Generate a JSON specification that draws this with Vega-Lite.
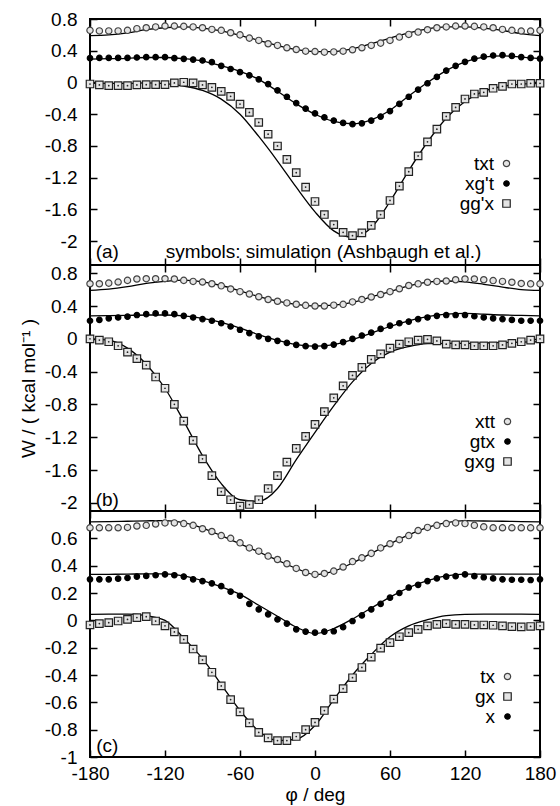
{
"$schema": "https://vega.github.io/schema/vega-lite/v6.json",
"padding": {"left": 18, "top": 9, "right": 5, "bottom": 0},
"spacing": 0,
"bounds": "flush",
"datasets": {
"sim": [
{"p":"a","s":"txt","phi":-180,"w":0.657},{"p":"a","s":"txt","phi":-172.5,"w":0.65},{"p":"a","s":"txt","phi":-165,"w":0.65},{"p":"a","s":"txt","phi":-157.5,"w":0.65},{"p":"a","s":"txt","phi":-150,"w":0.657},{"p":"a","s":"txt","phi":-142.5,"w":0.678},{"p":"a","s":"txt","phi":-135,"w":0.69},{"p":"a","s":"txt","phi":-127.5,"w":0.70},{"p":"a","s":"txt","phi":-120,"w":0.711},{"p":"a","s":"txt","phi":-112.5,"w":0.711},{"p":"a","s":"txt","phi":-105,"w":0.707},{"p":"a","s":"txt","phi":-97.5,"w":0.70},{"p":"a","s":"txt","phi":-90,"w":0.69},{"p":"a","s":"txt","phi":-82.5,"w":0.669},{"p":"a","s":"txt","phi":-75,"w":0.657},{"p":"a","s":"txt","phi":-67.5,"w":0.627},{"p":"a","s":"txt","phi":-60,"w":0.60},{"p":"a","s":"txt","phi":-52.5,"w":0.559},{"p":"a","s":"txt","phi":-45,"w":0.53},{"p":"a","s":"txt","phi":-37.5,"w":0.488},{"p":"a","s":"txt","phi":-30,"w":0.467},{"p":"a","s":"txt","phi":-22.5,"w":0.437},{"p":"a","s":"txt","phi":-15,"w":0.416},{"p":"a","s":"txt","phi":-7.5,"w":0.395},{"p":"a","s":"txt","phi":0,"w":0.39},{"p":"a","s":"txt","phi":7.5,"w":0.382},{"p":"a","s":"txt","phi":15,"w":0.385},{"p":"a","s":"txt","phi":22.5,"w":0.395},{"p":"a","s":"txt","phi":30,"w":0.412},{"p":"a","s":"txt","phi":37.5,"w":0.437},{"p":"a","s":"txt","phi":45,"w":0.467},{"p":"a","s":"txt","phi":52.5,"w":0.496},{"p":"a","s":"txt","phi":60,"w":0.53},{"p":"a","s":"txt","phi":67.5,"w":0.572},{"p":"a","s":"txt","phi":75,"w":0.606},{"p":"a","s":"txt","phi":82.5,"w":0.635},{"p":"a","s":"txt","phi":90,"w":0.665},{"p":"a","s":"txt","phi":97.5,"w":0.69},{"p":"a","s":"txt","phi":105,"w":0.70},{"p":"a","s":"txt","phi":112.5,"w":0.711},{"p":"a","s":"txt","phi":120,"w":0.711},{"p":"a","s":"txt","phi":127.5,"w":0.707},{"p":"a","s":"txt","phi":135,"w":0.70},{"p":"a","s":"txt","phi":142.5,"w":0.69},{"p":"a","s":"txt","phi":150,"w":0.669},{"p":"a","s":"txt","phi":157.5,"w":0.657},{"p":"a","s":"txt","phi":165,"w":0.648},{"p":"a","s":"txt","phi":172.5,"w":0.648},{"p":"a","s":"txt","phi":180,"w":0.657},
{"p":"a","s":"xg't","phi":-180,"w":0.306},{"p":"a","s":"xg't","phi":-172.5,"w":0.31},{"p":"a","s":"xg't","phi":-165,"w":0.31},{"p":"a","s":"xg't","phi":-157.5,"w":0.31},{"p":"a","s":"xg't","phi":-150,"w":0.31},{"p":"a","s":"xg't","phi":-142.5,"w":0.315},{"p":"a","s":"xg't","phi":-135,"w":0.319},{"p":"a","s":"xg't","phi":-127.5,"w":0.319},{"p":"a","s":"xg't","phi":-120,"w":0.319},{"p":"a","s":"xg't","phi":-112.5,"w":0.306},{"p":"a","s":"xg't","phi":-105,"w":0.298},{"p":"a","s":"xg't","phi":-97.5,"w":0.289},{"p":"a","s":"xg't","phi":-90,"w":0.277},{"p":"a","s":"xg't","phi":-82.5,"w":0.256},{"p":"a","s":"xg't","phi":-75,"w":0.21},{"p":"a","s":"xg't","phi":-67.5,"w":0.17},{"p":"a","s":"xg't","phi":-60,"w":0.13},{"p":"a","s":"xg't","phi":-52.5,"w":0.09},{"p":"a","s":"xg't","phi":-45,"w":0.04},{"p":"a","s":"xg't","phi":-37.5,"w":-0.02},{"p":"a","s":"xg't","phi":-30,"w":-0.10},{"p":"a","s":"xg't","phi":-22.5,"w":-0.18},{"p":"a","s":"xg't","phi":-15,"w":-0.26},{"p":"a","s":"xg't","phi":-7.5,"w":-0.33},{"p":"a","s":"xg't","phi":0,"w":-0.39},{"p":"a","s":"xg't","phi":7.5,"w":-0.44},{"p":"a","s":"xg't","phi":15,"w":-0.48},{"p":"a","s":"xg't","phi":22.5,"w":-0.51},{"p":"a","s":"xg't","phi":30,"w":-0.525},{"p":"a","s":"xg't","phi":37.5,"w":-0.515},{"p":"a","s":"xg't","phi":45,"w":-0.48},{"p":"a","s":"xg't","phi":52.5,"w":-0.43},{"p":"a","s":"xg't","phi":60,"w":-0.36},{"p":"a","s":"xg't","phi":67.5,"w":-0.27},{"p":"a","s":"xg't","phi":75,"w":-0.18},{"p":"a","s":"xg't","phi":82.5,"w":-0.09},{"p":"a","s":"xg't","phi":90,"w":-0.01},{"p":"a","s":"xg't","phi":97.5,"w":0.07},{"p":"a","s":"xg't","phi":105,"w":0.15},{"p":"a","s":"xg't","phi":112.5,"w":0.21},{"p":"a","s":"xg't","phi":120,"w":0.26},{"p":"a","s":"xg't","phi":127.5,"w":0.30},{"p":"a","s":"xg't","phi":135,"w":0.325},{"p":"a","s":"xg't","phi":142.5,"w":0.34},{"p":"a","s":"xg't","phi":150,"w":0.345},{"p":"a","s":"xg't","phi":157.5,"w":0.335},{"p":"a","s":"xg't","phi":165,"w":0.32},{"p":"a","s":"xg't","phi":172.5,"w":0.31},{"p":"a","s":"xg't","phi":180,"w":0.30},
{"p":"a","s":"gg'x","phi":-180,"w":-0.019},{"p":"a","s":"gg'x","phi":-172.5,"w":-0.031},{"p":"a","s":"gg'x","phi":-165,"w":-0.04},{"p":"a","s":"gg'x","phi":-157.5,"w":-0.04},{"p":"a","s":"gg'x","phi":-150,"w":-0.04},{"p":"a","s":"gg'x","phi":-142.5,"w":-0.031},{"p":"a","s":"gg'x","phi":-135,"w":-0.027},{"p":"a","s":"gg'x","phi":-127.5,"w":-0.027},{"p":"a","s":"gg'x","phi":-120,"w":-0.027},{"p":"a","s":"gg'x","phi":-112.5,"w":-0.006},{"p":"a","s":"gg'x","phi":-105,"w":0.003},{"p":"a","s":"gg'x","phi":-97.5,"w":-0.006},{"p":"a","s":"gg'x","phi":-90,"w":-0.031},{"p":"a","s":"gg'x","phi":-82.5,"w":-0.061},{"p":"a","s":"gg'x","phi":-75,"w":-0.111},{"p":"a","s":"gg'x","phi":-67.5,"w":-0.175},{"p":"a","s":"gg'x","phi":-60,"w":-0.272},{"p":"a","s":"gg'x","phi":-52.5,"w":-0.377},{"p":"a","s":"gg'x","phi":-45,"w":-0.504},{"p":"a","s":"gg'x","phi":-37.5,"w":-0.652},{"p":"a","s":"gg'x","phi":-30,"w":-0.80},{"p":"a","s":"gg'x","phi":-22.5,"w":-0.968},{"p":"a","s":"gg'x","phi":-15,"w":-1.137},{"p":"a","s":"gg'x","phi":-7.5,"w":-1.318},{"p":"a","s":"gg'x","phi":0,"w":-1.50},{"p":"a","s":"gg'x","phi":7.5,"w":-1.664},{"p":"a","s":"gg'x","phi":15,"w":-1.791},{"p":"a","s":"gg'x","phi":22.5,"w":-1.888},{"p":"a","s":"gg'x","phi":30,"w":-1.93},{"p":"a","s":"gg'x","phi":37.5,"w":-1.896},{"p":"a","s":"gg'x","phi":45,"w":-1.80},{"p":"a","s":"gg'x","phi":52.5,"w":-1.664},{"p":"a","s":"gg'x","phi":60,"w":-1.487},{"p":"a","s":"gg'x","phi":67.5,"w":-1.305},{"p":"a","s":"gg'x","phi":75,"w":-1.124},{"p":"a","s":"gg'x","phi":82.5,"w":-0.926},{"p":"a","s":"gg'x","phi":90,"w":-0.748},{"p":"a","s":"gg'x","phi":97.5,"w":-0.588},{"p":"a","s":"gg'x","phi":105,"w":-0.428},{"p":"a","s":"gg'x","phi":112.5,"w":-0.314},{"p":"a","s":"gg'x","phi":120,"w":-0.208},{"p":"a","s":"gg'x","phi":127.5,"w":-0.145},{"p":"a","s":"gg'x","phi":135,"w":-0.124},{"p":"a","s":"gg'x","phi":142.5,"w":-0.073},{"p":"a","s":"gg'x","phi":150,"w":-0.048},{"p":"a","s":"gg'x","phi":157.5,"w":-0.019},{"p":"a","s":"gg'x","phi":165,"w":-0.019},{"p":"a","s":"gg'x","phi":172.5,"w":-0.01},{"p":"a","s":"gg'x","phi":180,"w":-0.01},
{"p":"b","s":"xtt","phi":-180,"w":0.671},{"p":"b","s":"xtt","phi":-172.5,"w":0.671},{"p":"b","s":"xtt","phi":-165,"w":0.679},{"p":"b","s":"xtt","phi":-157.5,"w":0.692},{"p":"b","s":"xtt","phi":-150,"w":0.7125},{"p":"b","s":"xtt","phi":-142.5,"w":0.729},{"p":"b","s":"xtt","phi":-135,"w":0.733},{"p":"b","s":"xtt","phi":-127.5,"w":0.733},{"p":"b","s":"xtt","phi":-120,"w":0.733},{"p":"b","s":"xtt","phi":-112.5,"w":0.729},{"p":"b","s":"xtt","phi":-105,"w":0.7125},{"p":"b","s":"xtt","phi":-97.5,"w":0.70},{"p":"b","s":"xtt","phi":-90,"w":0.692},{"p":"b","s":"xtt","phi":-82.5,"w":0.671},{"p":"b","s":"xtt","phi":-75,"w":0.646},{"p":"b","s":"xtt","phi":-67.5,"w":0.608},{"p":"b","s":"xtt","phi":-60,"w":0.575},{"p":"b","s":"xtt","phi":-52.5,"w":0.546},{"p":"b","s":"xtt","phi":-45,"w":0.5125},{"p":"b","s":"xtt","phi":-37.5,"w":0.479},{"p":"b","s":"xtt","phi":-30,"w":0.458},{"p":"b","s":"xtt","phi":-22.5,"w":0.4375},{"p":"b","s":"xtt","phi":-15,"w":0.421},{"p":"b","s":"xtt","phi":-7.5,"w":0.408},{"p":"b","s":"xtt","phi":0,"w":0.40},{"p":"b","s":"xtt","phi":7.5,"w":0.40},{"p":"b","s":"xtt","phi":15,"w":0.41},{"p":"b","s":"xtt","phi":22.5,"w":0.42},{"p":"b","s":"xtt","phi":30,"w":0.45},{"p":"b","s":"xtt","phi":37.5,"w":0.48},{"p":"b","s":"xtt","phi":45,"w":0.51},{"p":"b","s":"xtt","phi":52.5,"w":0.54},{"p":"b","s":"xtt","phi":60,"w":0.575},{"p":"b","s":"xtt","phi":67.5,"w":0.61},{"p":"b","s":"xtt","phi":75,"w":0.65},{"p":"b","s":"xtt","phi":82.5,"w":0.67},{"p":"b","s":"xtt","phi":90,"w":0.69},{"p":"b","s":"xtt","phi":97.5,"w":0.70},{"p":"b","s":"xtt","phi":105,"w":0.705},{"p":"b","s":"xtt","phi":112.5,"w":0.72},{"p":"b","s":"xtt","phi":120,"w":0.73},{"p":"b","s":"xtt","phi":127.5,"w":0.73},{"p":"b","s":"xtt","phi":135,"w":0.72},{"p":"b","s":"xtt","phi":142.5,"w":0.71},{"p":"b","s":"xtt","phi":150,"w":0.70},{"p":"b","s":"xtt","phi":157.5,"w":0.69},{"p":"b","s":"xtt","phi":165,"w":0.675},{"p":"b","s":"xtt","phi":172.5,"w":0.67},{"p":"b","s":"xtt","phi":180,"w":0.67},
{"p":"b","s":"gtx","phi":-180,"w":0.22},{"p":"b","s":"gtx","phi":-172.5,"w":0.23},{"p":"b","s":"gtx","phi":-165,"w":0.25},{"p":"b","s":"gtx","phi":-157.5,"w":0.26},{"p":"b","s":"gtx","phi":-150,"w":0.27},{"p":"b","s":"gtx","phi":-142.5,"w":0.29},{"p":"b","s":"gtx","phi":-135,"w":0.30},{"p":"b","s":"gtx","phi":-127.5,"w":0.31},{"p":"b","s":"gtx","phi":-120,"w":0.31},{"p":"b","s":"gtx","phi":-112.5,"w":0.30},{"p":"b","s":"gtx","phi":-105,"w":0.28},{"p":"b","s":"gtx","phi":-97.5,"w":0.26},{"p":"b","s":"gtx","phi":-90,"w":0.24},{"p":"b","s":"gtx","phi":-82.5,"w":0.22},{"p":"b","s":"gtx","phi":-75,"w":0.19},{"p":"b","s":"gtx","phi":-67.5,"w":0.15},{"p":"b","s":"gtx","phi":-60,"w":0.11},{"p":"b","s":"gtx","phi":-52.5,"w":0.07},{"p":"b","s":"gtx","phi":-45,"w":0.03},{"p":"b","s":"gtx","phi":-37.5,"w":0.0},{"p":"b","s":"gtx","phi":-30,"w":-0.025},{"p":"b","s":"gtx","phi":-22.5,"w":-0.05},{"p":"b","s":"gtx","phi":-15,"w":-0.075},{"p":"b","s":"gtx","phi":-7.5,"w":-0.09},{"p":"b","s":"gtx","phi":0,"w":-0.095},{"p":"b","s":"gtx","phi":7.5,"w":-0.09},{"p":"b","s":"gtx","phi":15,"w":-0.07},{"p":"b","s":"gtx","phi":22.5,"w":-0.04},{"p":"b","s":"gtx","phi":30,"w":0.0},{"p":"b","s":"gtx","phi":37.5,"w":0.04},{"p":"b","s":"gtx","phi":45,"w":0.075},{"p":"b","s":"gtx","phi":52.5,"w":0.12},{"p":"b","s":"gtx","phi":60,"w":0.16},{"p":"b","s":"gtx","phi":67.5,"w":0.19},{"p":"b","s":"gtx","phi":75,"w":0.21},{"p":"b","s":"gtx","phi":82.5,"w":0.24},{"p":"b","s":"gtx","phi":90,"w":0.26},{"p":"b","s":"gtx","phi":97.5,"w":0.28},{"p":"b","s":"gtx","phi":105,"w":0.29},{"p":"b","s":"gtx","phi":112.5,"w":0.29},{"p":"b","s":"gtx","phi":120,"w":0.29},{"p":"b","s":"gtx","phi":127.5,"w":0.275},{"p":"b","s":"gtx","phi":135,"w":0.26},{"p":"b","s":"gtx","phi":142.5,"w":0.25},{"p":"b","s":"gtx","phi":150,"w":0.24},{"p":"b","s":"gtx","phi":157.5,"w":0.23},{"p":"b","s":"gtx","phi":165,"w":0.22},{"p":"b","s":"gtx","phi":172.5,"w":0.22},{"p":"b","s":"gtx","phi":180,"w":0.22},
{"p":"b","s":"gxg","phi":-180,"w":0.0},{"p":"b","s":"gxg","phi":-172.5,"w":-0.016},{"p":"b","s":"gxg","phi":-165,"w":-0.036},{"p":"b","s":"gxg","phi":-157.5,"w":-0.085},{"p":"b","s":"gxg","phi":-150,"w":-0.163},{"p":"b","s":"gxg","phi":-142.5,"w":-0.241},{"p":"b","s":"gxg","phi":-135,"w":-0.32},{"p":"b","s":"gxg","phi":-127.5,"w":-0.466},{"p":"b","s":"gxg","phi":-120,"w":-0.603},{"p":"b","s":"gxg","phi":-112.5,"w":-0.799},{"p":"b","s":"gxg","phi":-105,"w":-1.004},{"p":"b","s":"gxg","phi":-97.5,"w":-1.239},{"p":"b","s":"gxg","phi":-90,"w":-1.464},{"p":"b","s":"gxg","phi":-82.5,"w":-1.669},{"p":"b","s":"gxg","phi":-75,"w":-1.865},{"p":"b","s":"gxg","phi":-67.5,"w":-1.963},{"p":"b","s":"gxg","phi":-60,"w":-2.041},{"p":"b","s":"gxg","phi":-52.5,"w":-2.021},{"p":"b","s":"gxg","phi":-45,"w":-1.963},{"p":"b","s":"gxg","phi":-37.5,"w":-1.826},{"p":"b","s":"gxg","phi":-30,"w":-1.669},{"p":"b","s":"gxg","phi":-22.5,"w":-1.503},{"p":"b","s":"gxg","phi":-15,"w":-1.337},{"p":"b","s":"gxg","phi":-7.5,"w":-1.19},{"p":"b","s":"gxg","phi":0,"w":-1.043},{"p":"b","s":"gxg","phi":7.5,"w":-0.887},{"p":"b","s":"gxg","phi":15,"w":-0.72},{"p":"b","s":"gxg","phi":22.5,"w":-0.574},{"p":"b","s":"gxg","phi":30,"w":-0.447},{"p":"b","s":"gxg","phi":37.5,"w":-0.349},{"p":"b","s":"gxg","phi":45,"w":-0.251},{"p":"b","s":"gxg","phi":52.5,"w":-0.183},{"p":"b","s":"gxg","phi":60,"w":-0.114},{"p":"b","s":"gxg","phi":67.5,"w":-0.065},{"p":"b","s":"gxg","phi":75,"w":-0.036},{"p":"b","s":"gxg","phi":82.5,"w":-0.016},{"p":"b","s":"gxg","phi":90,"w":-0.007},{"p":"b","s":"gxg","phi":97.5,"w":-0.026},{"p":"b","s":"gxg","phi":105,"w":-0.065},{"p":"b","s":"gxg","phi":112.5,"w":-0.075},{"p":"b","s":"gxg","phi":120,"w":-0.075},{"p":"b","s":"gxg","phi":127.5,"w":-0.085},{"p":"b","s":"gxg","phi":135,"w":-0.085},{"p":"b","s":"gxg","phi":142.5,"w":-0.085},{"p":"b","s":"gxg","phi":150,"w":-0.075},{"p":"b","s":"gxg","phi":157.5,"w":-0.055},{"p":"b","s":"gxg","phi":165,"w":-0.036},{"p":"b","s":"gxg","phi":172.5,"w":-0.016},{"p":"b","s":"gxg","phi":180,"w":0.0},
{"p":"c","s":"tx","phi":-180,"w":0.677},{"p":"c","s":"tx","phi":-172.5,"w":0.677},{"p":"c","s":"tx","phi":-165,"w":0.677},{"p":"c","s":"tx","phi":-157.5,"w":0.677},{"p":"c","s":"tx","phi":-150,"w":0.68},{"p":"c","s":"tx","phi":-142.5,"w":0.69},{"p":"c","s":"tx","phi":-135,"w":0.695},{"p":"c","s":"tx","phi":-127.5,"w":0.705},{"p":"c","s":"tx","phi":-120,"w":0.713},{"p":"c","s":"tx","phi":-112.5,"w":0.713},{"p":"c","s":"tx","phi":-105,"w":0.708},{"p":"c","s":"tx","phi":-97.5,"w":0.695},{"p":"c","s":"tx","phi":-90,"w":0.67},{"p":"c","s":"tx","phi":-82.5,"w":0.65},{"p":"c","s":"tx","phi":-75,"w":0.62},{"p":"c","s":"tx","phi":-67.5,"w":0.60},{"p":"c","s":"tx","phi":-60,"w":0.567},{"p":"c","s":"tx","phi":-52.5,"w":0.53},{"p":"c","s":"tx","phi":-45,"w":0.506},{"p":"c","s":"tx","phi":-37.5,"w":0.47},{"p":"c","s":"tx","phi":-30,"w":0.445},{"p":"c","s":"tx","phi":-22.5,"w":0.414},{"p":"c","s":"tx","phi":-15,"w":0.38},{"p":"c","s":"tx","phi":-7.5,"w":0.35},{"p":"c","s":"tx","phi":0,"w":0.336},{"p":"c","s":"tx","phi":7.5,"w":0.343},{"p":"c","s":"tx","phi":15,"w":0.36},{"p":"c","s":"tx","phi":22.5,"w":0.39},{"p":"c","s":"tx","phi":30,"w":0.43},{"p":"c","s":"tx","phi":37.5,"w":0.457},{"p":"c","s":"tx","phi":45,"w":0.49},{"p":"c","s":"tx","phi":52.5,"w":0.53},{"p":"c","s":"tx","phi":60,"w":0.56},{"p":"c","s":"tx","phi":67.5,"w":0.59},{"p":"c","s":"tx","phi":75,"w":0.62},{"p":"c","s":"tx","phi":82.5,"w":0.657},{"p":"c","s":"tx","phi":90,"w":0.68},{"p":"c","s":"tx","phi":97.5,"w":0.695},{"p":"c","s":"tx","phi":105,"w":0.708},{"p":"c","s":"tx","phi":112.5,"w":0.713},{"p":"c","s":"tx","phi":120,"w":0.708},{"p":"c","s":"tx","phi":127.5,"w":0.695},{"p":"c","s":"tx","phi":135,"w":0.684},{"p":"c","s":"tx","phi":142.5,"w":0.677},{"p":"c","s":"tx","phi":150,"w":0.677},{"p":"c","s":"tx","phi":157.5,"w":0.677},{"p":"c","s":"tx","phi":165,"w":0.677},{"p":"c","s":"tx","phi":172.5,"w":0.677},{"p":"c","s":"tx","phi":180,"w":0.677},
{"p":"c","s":"gx","phi":-180,"w":-0.034},{"p":"c","s":"gx","phi":-172.5,"w":-0.024},{"p":"c","s":"gx","phi":-165,"w":-0.017},{"p":"c","s":"gx","phi":-157.5,"w":-0.005},{"p":"c","s":"gx","phi":-150,"w":0.007},{"p":"c","s":"gx","phi":-142.5,"w":0.02},{"p":"c","s":"gx","phi":-135,"w":0.027},{"p":"c","s":"gx","phi":-127.5,"w":-0.005},{"p":"c","s":"gx","phi":-120,"w":-0.04},{"p":"c","s":"gx","phi":-112.5,"w":-0.085},{"p":"c","s":"gx","phi":-105,"w":-0.14},{"p":"c","s":"gx","phi":-97.5,"w":-0.21},{"p":"c","s":"gx","phi":-90,"w":-0.29},{"p":"c","s":"gx","phi":-82.5,"w":-0.38},{"p":"c","s":"gx","phi":-75,"w":-0.48},{"p":"c","s":"gx","phi":-67.5,"w":-0.58},{"p":"c","s":"gx","phi":-60,"w":-0.67},{"p":"c","s":"gx","phi":-52.5,"w":-0.75},{"p":"c","s":"gx","phi":-45,"w":-0.82},{"p":"c","s":"gx","phi":-37.5,"w":-0.86},{"p":"c","s":"gx","phi":-30,"w":-0.88},{"p":"c","s":"gx","phi":-22.5,"w":-0.88},{"p":"c","s":"gx","phi":-15,"w":-0.85},{"p":"c","s":"gx","phi":-7.5,"w":-0.80},{"p":"c","s":"gx","phi":0,"w":-0.747},{"p":"c","s":"gx","phi":7.5,"w":-0.66},{"p":"c","s":"gx","phi":15,"w":-0.577},{"p":"c","s":"gx","phi":22.5,"w":-0.50},{"p":"c","s":"gx","phi":30,"w":-0.42},{"p":"c","s":"gx","phi":37.5,"w":-0.345},{"p":"c","s":"gx","phi":45,"w":-0.27},{"p":"c","s":"gx","phi":52.5,"w":-0.204},{"p":"c","s":"gx","phi":60,"w":-0.163},{"p":"c","s":"gx","phi":67.5,"w":-0.12},{"p":"c","s":"gx","phi":75,"w":-0.09},{"p":"c","s":"gx","phi":82.5,"w":-0.066},{"p":"c","s":"gx","phi":90,"w":-0.04},{"p":"c","s":"gx","phi":97.5,"w":-0.03},{"p":"c","s":"gx","phi":105,"w":-0.024},{"p":"c","s":"gx","phi":112.5,"w":-0.03},{"p":"c","s":"gx","phi":120,"w":-0.03},{"p":"c","s":"gx","phi":127.5,"w":-0.034},{"p":"c","s":"gx","phi":135,"w":-0.034},{"p":"c","s":"gx","phi":142.5,"w":-0.036},{"p":"c","s":"gx","phi":150,"w":-0.04},{"p":"c","s":"gx","phi":157.5,"w":-0.046},{"p":"c","s":"gx","phi":165,"w":-0.048},{"p":"c","s":"gx","phi":172.5,"w":-0.045},{"p":"c","s":"gx","phi":180,"w":-0.04},
{"p":"c","s":"x","phi":-180,"w":0.30},{"p":"c","s":"x","phi":-172.5,"w":0.30},{"p":"c","s":"x","phi":-165,"w":0.30},{"p":"c","s":"x","phi":-157.5,"w":0.305},{"p":"c","s":"x","phi":-150,"w":0.31},{"p":"c","s":"x","phi":-142.5,"w":0.32},{"p":"c","s":"x","phi":-135,"w":0.325},{"p":"c","s":"x","phi":-127.5,"w":0.33},{"p":"c","s":"x","phi":-120,"w":0.336},{"p":"c","s":"x","phi":-112.5,"w":0.33},{"p":"c","s":"x","phi":-105,"w":0.32},{"p":"c","s":"x","phi":-97.5,"w":0.30},{"p":"c","s":"x","phi":-90,"w":0.287},{"p":"c","s":"x","phi":-82.5,"w":0.27},{"p":"c","s":"x","phi":-75,"w":0.25},{"p":"c","s":"x","phi":-67.5,"w":0.21},{"p":"c","s":"x","phi":-60,"w":0.18},{"p":"c","s":"x","phi":-52.5,"w":0.12},{"p":"c","s":"x","phi":-45,"w":0.08},{"p":"c","s":"x","phi":-37.5,"w":0.044},{"p":"c","s":"x","phi":-30,"w":0.007},{"p":"c","s":"x","phi":-22.5,"w":-0.024},{"p":"c","s":"x","phi":-15,"w":-0.066},{"p":"c","s":"x","phi":-7.5,"w":-0.083},{"p":"c","s":"x","phi":0,"w":-0.09},{"p":"c","s":"x","phi":7.5,"w":-0.083},{"p":"c","s":"x","phi":15,"w":-0.08},{"p":"c","s":"x","phi":22.5,"w":-0.05},{"p":"c","s":"x","phi":30,"w":-0.005},{"p":"c","s":"x","phi":37.5,"w":0.036},{"p":"c","s":"x","phi":45,"w":0.08},{"p":"c","s":"x","phi":52.5,"w":0.12},{"p":"c","s":"x","phi":60,"w":0.166},{"p":"c","s":"x","phi":67.5,"w":0.20},{"p":"c","s":"x","phi":75,"w":0.24},{"p":"c","s":"x","phi":82.5,"w":0.26},{"p":"c","s":"x","phi":90,"w":0.287},{"p":"c","s":"x","phi":97.5,"w":0.307},{"p":"c","s":"x","phi":105,"w":0.32},{"p":"c","s":"x","phi":112.5,"w":0.323},{"p":"c","s":"x","phi":120,"w":0.336},{"p":"c","s":"x","phi":127.5,"w":0.323},{"p":"c","s":"x","phi":135,"w":0.315},{"p":"c","s":"x","phi":142.5,"w":0.307},{"p":"c","s":"x","phi":150,"w":0.30},{"p":"c","s":"x","phi":157.5,"w":0.297},{"p":"c","s":"x","phi":165,"w":0.297},{"p":"c","s":"x","phi":172.5,"w":0.295},{"p":"c","s":"x","phi":180,"w":0.30}
],
"fit": [
{"p":"a","s":"txt","phi":-180,"w":0.59},{"p":"a","s":"txt","phi":-165,"w":0.60},{"p":"a","s":"txt","phi":-150,"w":0.625},{"p":"a","s":"txt","phi":-135,"w":0.665},{"p":"a","s":"txt","phi":-120,"w":0.69},{"p":"a","s":"txt","phi":-105,"w":0.70},{"p":"a","s":"txt","phi":-90,"w":0.685},{"p":"a","s":"txt","phi":-75,"w":0.65},{"p":"a","s":"txt","phi":-60,"w":0.595},{"p":"a","s":"txt","phi":-45,"w":0.53},{"p":"a","s":"txt","phi":-30,"w":0.465},{"p":"a","s":"txt","phi":-15,"w":0.415},{"p":"a","s":"txt","phi":0,"w":0.39},{"p":"a","s":"txt","phi":15,"w":0.39},{"p":"a","s":"txt","phi":30,"w":0.425},{"p":"a","s":"txt","phi":45,"w":0.49},{"p":"a","s":"txt","phi":60,"w":0.56},{"p":"a","s":"txt","phi":75,"w":0.625},{"p":"a","s":"txt","phi":90,"w":0.675},{"p":"a","s":"txt","phi":105,"w":0.70},{"p":"a","s":"txt","phi":120,"w":0.70},{"p":"a","s":"txt","phi":135,"w":0.685},{"p":"a","s":"txt","phi":150,"w":0.655},{"p":"a","s":"txt","phi":165,"w":0.615},{"p":"a","s":"txt","phi":180,"w":0.59},
{"p":"a","s":"xg't","phi":-180,"w":0.295},{"p":"a","s":"xg't","phi":-165,"w":0.30},{"p":"a","s":"xg't","phi":-150,"w":0.305},{"p":"a","s":"xg't","phi":-135,"w":0.315},{"p":"a","s":"xg't","phi":-120,"w":0.315},{"p":"a","s":"xg't","phi":-105,"w":0.30},{"p":"a","s":"xg't","phi":-90,"w":0.27},{"p":"a","s":"xg't","phi":-75,"w":0.21},{"p":"a","s":"xg't","phi":-60,"w":0.14},{"p":"a","s":"xg't","phi":-45,"w":0.04},{"p":"a","s":"xg't","phi":-30,"w":-0.11},{"p":"a","s":"xg't","phi":-15,"w":-0.27},{"p":"a","s":"xg't","phi":0,"w":-0.40},{"p":"a","s":"xg't","phi":15,"w":-0.49},{"p":"a","s":"xg't","phi":30,"w":-0.52},{"p":"a","s":"xg't","phi":45,"w":-0.47},{"p":"a","s":"xg't","phi":60,"w":-0.35},{"p":"a","s":"xg't","phi":75,"w":-0.17},{"p":"a","s":"xg't","phi":90,"w":0.0},{"p":"a","s":"xg't","phi":105,"w":0.15},{"p":"a","s":"xg't","phi":120,"w":0.26},{"p":"a","s":"xg't","phi":135,"w":0.32},{"p":"a","s":"xg't","phi":150,"w":0.335},{"p":"a","s":"xg't","phi":165,"w":0.32},{"p":"a","s":"xg't","phi":180,"w":0.30},
{"p":"a","s":"gg'x","phi":-180,"w":-0.01},{"p":"a","s":"gg'x","phi":-165,"w":-0.01},{"p":"a","s":"gg'x","phi":-150,"w":-0.01},{"p":"a","s":"gg'x","phi":-135,"w":-0.005},{"p":"a","s":"gg'x","phi":-120,"w":-0.015},{"p":"a","s":"gg'x","phi":-105,"w":-0.045},{"p":"a","s":"gg'x","phi":-90,"w":-0.10},{"p":"a","s":"gg'x","phi":-75,"w":-0.21},{"p":"a","s":"gg'x","phi":-60,"w":-0.40},{"p":"a","s":"gg'x","phi":-45,"w":-0.68},{"p":"a","s":"gg'x","phi":-30,"w":-0.99},{"p":"a","s":"gg'x","phi":-15,"w":-1.32},{"p":"a","s":"gg'x","phi":0,"w":-1.63},{"p":"a","s":"gg'x","phi":15,"w":-1.87},{"p":"a","s":"gg'x","phi":30,"w":-1.95},{"p":"a","s":"gg'x","phi":45,"w":-1.83},{"p":"a","s":"gg'x","phi":60,"w":-1.50},{"p":"a","s":"gg'x","phi":75,"w":-1.11},{"p":"a","s":"gg'x","phi":90,"w":-0.75},{"p":"a","s":"gg'x","phi":105,"w":-0.45},{"p":"a","s":"gg'x","phi":120,"w":-0.24},{"p":"a","s":"gg'x","phi":135,"w":-0.11},{"p":"a","s":"gg'x","phi":150,"w":-0.05},{"p":"a","s":"gg'x","phi":165,"w":-0.02},{"p":"a","s":"gg'x","phi":180,"w":-0.01},
{"p":"b","s":"xtt","phi":-180,"w":0.59},{"p":"b","s":"xtt","phi":-165,"w":0.605},{"p":"b","s":"xtt","phi":-150,"w":0.635},{"p":"b","s":"xtt","phi":-135,"w":0.675},{"p":"b","s":"xtt","phi":-120,"w":0.70},{"p":"b","s":"xtt","phi":-105,"w":0.715},{"p":"b","s":"xtt","phi":-90,"w":0.695},{"p":"b","s":"xtt","phi":-75,"w":0.65},{"p":"b","s":"xtt","phi":-60,"w":0.585},{"p":"b","s":"xtt","phi":-45,"w":0.515},{"p":"b","s":"xtt","phi":-30,"w":0.46},{"p":"b","s":"xtt","phi":-15,"w":0.42},{"p":"b","s":"xtt","phi":0,"w":0.40},{"p":"b","s":"xtt","phi":15,"w":0.41},{"p":"b","s":"xtt","phi":30,"w":0.445},{"p":"b","s":"xtt","phi":45,"w":0.51},{"p":"b","s":"xtt","phi":60,"w":0.575},{"p":"b","s":"xtt","phi":75,"w":0.645},{"p":"b","s":"xtt","phi":90,"w":0.69},{"p":"b","s":"xtt","phi":105,"w":0.705},{"p":"b","s":"xtt","phi":120,"w":0.695},{"p":"b","s":"xtt","phi":135,"w":0.665},{"p":"b","s":"xtt","phi":150,"w":0.63},{"p":"b","s":"xtt","phi":165,"w":0.60},{"p":"b","s":"xtt","phi":180,"w":0.59},
{"p":"b","s":"gtx","phi":-180,"w":0.28},{"p":"b","s":"gtx","phi":-165,"w":0.282},{"p":"b","s":"gtx","phi":-150,"w":0.285},{"p":"b","s":"gtx","phi":-135,"w":0.29},{"p":"b","s":"gtx","phi":-120,"w":0.29},{"p":"b","s":"gtx","phi":-105,"w":0.28},{"p":"b","s":"gtx","phi":-90,"w":0.25},{"p":"b","s":"gtx","phi":-75,"w":0.20},{"p":"b","s":"gtx","phi":-60,"w":0.13},{"p":"b","s":"gtx","phi":-45,"w":0.05},{"p":"b","s":"gtx","phi":-30,"w":-0.02},{"p":"b","s":"gtx","phi":-15,"w":-0.07},{"p":"b","s":"gtx","phi":0,"w":-0.09},{"p":"b","s":"gtx","phi":15,"w":-0.07},{"p":"b","s":"gtx","phi":30,"w":-0.01},{"p":"b","s":"gtx","phi":45,"w":0.07},{"p":"b","s":"gtx","phi":60,"w":0.15},{"p":"b","s":"gtx","phi":75,"w":0.22},{"p":"b","s":"gtx","phi":90,"w":0.27},{"p":"b","s":"gtx","phi":105,"w":0.30},{"p":"b","s":"gtx","phi":120,"w":0.31},{"p":"b","s":"gtx","phi":135,"w":0.30},{"p":"b","s":"gtx","phi":150,"w":0.29},{"p":"b","s":"gtx","phi":165,"w":0.285},{"p":"b","s":"gtx","phi":180,"w":0.28},
{"p":"b","s":"gxg","phi":-180,"w":0.0},{"p":"b","s":"gxg","phi":-165,"w":-0.016},{"p":"b","s":"gxg","phi":-150,"w":-0.114},{"p":"b","s":"gxg","phi":-135,"w":-0.31},{"p":"b","s":"gxg","phi":-120,"w":-0.603},{"p":"b","s":"gxg","phi":-105,"w":-1.004},{"p":"b","s":"gxg","phi":-90,"w":-1.425},{"p":"b","s":"gxg","phi":-75,"w":-1.767},{"p":"b","s":"gxg","phi":-60,"w":-1.963},{"p":"b","s":"gxg","phi":-45,"w":-1.982},{"p":"b","s":"gxg","phi":-30,"w":-1.826},{"p":"b","s":"gxg","phi":-15,"w":-1.474},{"p":"b","s":"gxg","phi":0,"w":-1.141},{"p":"b","s":"gxg","phi":15,"w":-0.818},{"p":"b","s":"gxg","phi":30,"w":-0.525},{"p":"b","s":"gxg","phi":45,"w":-0.30},{"p":"b","s":"gxg","phi":60,"w":-0.163},{"p":"b","s":"gxg","phi":75,"w":-0.095},{"p":"b","s":"gxg","phi":90,"w":-0.06},{"p":"b","s":"gxg","phi":105,"w":-0.055},{"p":"b","s":"gxg","phi":120,"w":-0.055},{"p":"b","s":"gxg","phi":135,"w":-0.051},{"p":"b","s":"gxg","phi":150,"w":-0.046},{"p":"b","s":"gxg","phi":165,"w":-0.041},{"p":"b","s":"gxg","phi":180,"w":-0.036},
{"p":"c","s":"tx","phi":-180,"w":0.72},{"p":"c","s":"tx","phi":-165,"w":0.722},{"p":"c","s":"tx","phi":-150,"w":0.725},{"p":"c","s":"tx","phi":-135,"w":0.728},{"p":"c","s":"tx","phi":-120,"w":0.73},{"p":"c","s":"tx","phi":-105,"w":0.715},{"p":"c","s":"tx","phi":-90,"w":0.675},{"p":"c","s":"tx","phi":-75,"w":0.62},{"p":"c","s":"tx","phi":-60,"w":0.56},{"p":"c","s":"tx","phi":-45,"w":0.50},{"p":"c","s":"tx","phi":-30,"w":0.44},{"p":"c","s":"tx","phi":-15,"w":0.38},{"p":"c","s":"tx","phi":0,"w":0.335},{"p":"c","s":"tx","phi":15,"w":0.36},{"p":"c","s":"tx","phi":30,"w":0.42},{"p":"c","s":"tx","phi":45,"w":0.49},{"p":"c","s":"tx","phi":60,"w":0.56},{"p":"c","s":"tx","phi":75,"w":0.625},{"p":"c","s":"tx","phi":90,"w":0.68},{"p":"c","s":"tx","phi":105,"w":0.715},{"p":"c","s":"tx","phi":120,"w":0.73},{"p":"c","s":"tx","phi":135,"w":0.727},{"p":"c","s":"tx","phi":150,"w":0.725},{"p":"c","s":"tx","phi":165,"w":0.722},{"p":"c","s":"tx","phi":180,"w":0.72},
{"p":"c","s":"gx","phi":-180,"w":0.044},{"p":"c","s":"gx","phi":-165,"w":0.045},{"p":"c","s":"gx","phi":-150,"w":0.045},{"p":"c","s":"gx","phi":-135,"w":0.035},{"p":"c","s":"gx","phi":-120,"w":0.0},{"p":"c","s":"gx","phi":-105,"w":-0.13},{"p":"c","s":"gx","phi":-90,"w":-0.28},{"p":"c","s":"gx","phi":-75,"w":-0.47},{"p":"c","s":"gx","phi":-60,"w":-0.66},{"p":"c","s":"gx","phi":-45,"w":-0.81},{"p":"c","s":"gx","phi":-30,"w":-0.88},{"p":"c","s":"gx","phi":-15,"w":-0.87},{"p":"c","s":"gx","phi":0,"w":-0.77},{"p":"c","s":"gx","phi":15,"w":-0.58},{"p":"c","s":"gx","phi":30,"w":-0.40},{"p":"c","s":"gx","phi":45,"w":-0.25},{"p":"c","s":"gx","phi":60,"w":-0.12},{"p":"c","s":"gx","phi":75,"w":-0.04},{"p":"c","s":"gx","phi":90,"w":0.005},{"p":"c","s":"gx","phi":105,"w":0.035},{"p":"c","s":"gx","phi":120,"w":0.044},{"p":"c","s":"gx","phi":135,"w":0.045},{"p":"c","s":"gx","phi":150,"w":0.045},{"p":"c","s":"gx","phi":165,"w":0.045},{"p":"c","s":"gx","phi":180,"w":0.044},
{"p":"c","s":"x","phi":-180,"w":0.336},{"p":"c","s":"x","phi":-165,"w":0.337},{"p":"c","s":"x","phi":-150,"w":0.338},{"p":"c","s":"x","phi":-135,"w":0.34},{"p":"c","s":"x","phi":-120,"w":0.34},{"p":"c","s":"x","phi":-105,"w":0.325},{"p":"c","s":"x","phi":-90,"w":0.29},{"p":"c","s":"x","phi":-75,"w":0.245},{"p":"c","s":"x","phi":-60,"w":0.19},{"p":"c","s":"x","phi":-45,"w":0.11},{"p":"c","s":"x","phi":-30,"w":0.03},{"p":"c","s":"x","phi":-15,"w":-0.05},{"p":"c","s":"x","phi":0,"w":-0.097},{"p":"c","s":"x","phi":15,"w":-0.06},{"p":"c","s":"x","phi":30,"w":0.01},{"p":"c","s":"x","phi":45,"w":0.09},{"p":"c","s":"x","phi":60,"w":0.17},{"p":"c","s":"x","phi":75,"w":0.24},{"p":"c","s":"x","phi":90,"w":0.29},{"p":"c","s":"x","phi":105,"w":0.325},{"p":"c","s":"x","phi":120,"w":0.338},{"p":"c","s":"x","phi":135,"w":0.338},{"p":"c","s":"x","phi":150,"w":0.338},{"p":"c","s":"x","phi":165,"w":0.338},{"p":"c","s":"x","phi":180,"w":0.338}
]
},
"vconcat": [
{
"width": 450, "height": 246,
"layer": [
{"data": {"name": "fit"}, "transform": [{"filter": {"field": "p", "equal": "a"}}],
 "mark": {"type": "line", "interpolate": "monotone", "color": "black", "strokeWidth": 1.3},
 "encoding": {
  "x": {"field": "phi", "type": "quantitative", "scale": {"domain": [-180, 180], "nice": false, "zero": false}, "axis": {"orient": "bottom", "values": [-180,-120,-60,0,60,120,180], "labels": false, "tickSize": -7, "title": null}},
  "y": {"field": "w", "type": "quantitative", "scale": {"domain": [-2.3, 0.8], "nice": false, "zero": false}, "axis": {"orient": "left", "values": [0.8,0.4,0,-0.4,-0.8,-1.2,-1.6,-2], "tickSize": -7, "labelPadding": 20, "format": "~g", "labelExpr": "replace(datum.label, '−', '-')", "title": null}},
  "detail": {"field": "s", "type": "nominal"}
 }},
{"data": {"name": "sim"}, "transform": [{"filter": {"field": "p", "equal": "a"}}],
 "mark": {"type": "point", "opacity": 1, "strokeWidth": 1.2},
 "encoding": {
  "x": {"field": "phi", "type": "quantitative", "axis": {"orient": "top", "values": [-180,-120,-60,0,60,120,180], "labels": false, "tickSize": -7, "title": null}},
  "y": {"field": "w", "type": "quantitative", "axis": {"orient": "right", "values": [0.8,0.4,0,-0.4,-0.8,-1.2,-1.6,-2], "labels": false, "tickSize": -7, "title": null}},
  "shape": {"field": "s", "type": "nominal", "scale": {"domain": ["txt","xg't","gg'x"], "range": ["circle","circle","square"]}, "legend": {"title": null, "legendX": 407, "legendY": 135}},
  "fill": {"field": "s", "type": "nominal", "scale": {"domain": ["txt","xg't","gg'x"], "range": ["#e4e4e4","black","#e4e4e4"]}, "legend": {"title": null, "legendX": 407, "legendY": 135}},
  "stroke": {"field": "s", "type": "nominal", "scale": {"domain": ["txt","xg't","gg'x"], "range": ["#444","black","#222"]}, "legend": {"title": null, "legendX": 407, "legendY": 135}},
  "size": {"field": "s", "type": "nominal", "scale": {"type": "ordinal", "domain": ["txt","xg't","gg'x"], "range": [40, 30, 56]}, "legend": {"title": null, "legendX": 407, "legendY": 135}}
 }},
{"data": {"name": "sim"}, "transform": [{"filter": {"field": "p", "equal": "a"}}, {"filter": {"field": "s", "equal": "gg'x"}}],
 "mark": {"type": "point", "shape": "circle", "filled": true, "size": 3, "color": "#222", "opacity": 1},
 "encoding": {"x": {"field": "phi", "type": "quantitative", "axis": null}, "y": {"field": "w", "type": "quantitative", "axis": null}}},
{"data": {"values": [{}]},
 "mark": {"type": "text", "align": "left", "baseline": "alphabetic", "fontSize": 19, "font": "Liberation Sans", "color": "black"},
 "encoding": {"x": {"datum": -175.5, "type": "quantitative", "axis": null}, "y": {"datum": -2.21, "type": "quantitative", "axis": null}, "text": {"value": "(a)"}}},
{"data": {"values": [{}]},
 "mark": {"type": "text", "align": "left", "baseline": "alphabetic", "fontSize": 19, "font": "Liberation Sans", "color": "black"},
 "encoding": {"x": {"datum": -119.5, "type": "quantitative", "axis": null}, "y": {"datum": -2.21, "type": "quantitative", "axis": null}, "text": {"value": "symbols: simulation (Ashbaugh et al.)"}}}
],
"resolve": {"axis": {"x": "independent", "y": "independent"}}
},
{
"width": 450, "height": 246,
"layer": [
{"data": {"name": "fit"}, "transform": [{"filter": {"field": "p", "equal": "b"}}],
 "mark": {"type": "line", "interpolate": "monotone", "color": "black", "strokeWidth": 1.3},
 "encoding": {
  "x": {"field": "phi", "type": "quantitative", "scale": {"domain": [-180, 180], "nice": false, "zero": false}, "axis": {"orient": "bottom", "values": [-180,-120,-60,0,60,120,180], "labels": false, "tickSize": -7, "title": null}},
  "y": {"field": "w", "type": "quantitative", "scale": {"domain": [-2.1, 0.9], "nice": false, "zero": false}, "axis": {"orient": "left", "values": [0.8,0.4,0,-0.4,-0.8,-1.2,-1.6,-2], "tickSize": -7, "labelPadding": 20, "format": "~g", "labelExpr": "replace(datum.label, '−', '-')", "title": "W / ( kcal mol⁻¹ )", "titlePadding": 6}},
  "detail": {"field": "s", "type": "nominal"}
 }},
{"data": {"name": "sim"}, "transform": [{"filter": {"field": "p", "equal": "b"}}],
 "mark": {"type": "point", "opacity": 1, "strokeWidth": 1.2},
 "encoding": {
  "x": {"field": "phi", "type": "quantitative", "axis": {"orient": "top", "values": [-180,-120,-60,0,60,120,180], "labels": false, "tickSize": -7, "title": null}},
  "y": {"field": "w", "type": "quantitative", "axis": {"orient": "right", "values": [0.8,0.4,0,-0.4,-0.8,-1.2,-1.6,-2], "labels": false, "tickSize": -7, "title": null}},
  "shape": {"field": "s", "type": "nominal", "scale": {"domain": ["xtt","gtx","gxg"], "range": ["circle","circle","square"]}, "legend": {"title": null, "legendX": 408, "legendY": 147}},
  "fill": {"field": "s", "type": "nominal", "scale": {"domain": ["xtt","gtx","gxg"], "range": ["#e4e4e4","black","#e4e4e4"]}, "legend": {"title": null, "legendX": 408, "legendY": 147}},
  "stroke": {"field": "s", "type": "nominal", "scale": {"domain": ["xtt","gtx","gxg"], "range": ["#444","black","#222"]}, "legend": {"title": null, "legendX": 408, "legendY": 147}},
  "size": {"field": "s", "type": "nominal", "scale": {"type": "ordinal", "domain": ["xtt","gtx","gxg"], "range": [40, 30, 56]}, "legend": {"title": null, "legendX": 408, "legendY": 147}}
 }},
{"data": {"name": "sim"}, "transform": [{"filter": {"field": "p", "equal": "b"}}, {"filter": {"field": "s", "equal": "gxg"}}],
 "mark": {"type": "point", "shape": "circle", "filled": true, "size": 3, "color": "#222", "opacity": 1},
 "encoding": {"x": {"field": "phi", "type": "quantitative", "axis": null}, "y": {"field": "w", "type": "quantitative", "axis": null}}},
{"data": {"values": [{}]},
 "mark": {"type": "text", "align": "left", "baseline": "alphabetic", "fontSize": 19, "font": "Liberation Sans", "color": "black"},
 "encoding": {"x": {"datum": -175.5, "type": "quantitative", "axis": null}, "y": {"datum": -2.04, "type": "quantitative", "axis": null}, "text": {"value": "(b)"}}}
],
"resolve": {"axis": {"x": "independent", "y": "independent"}}
},
{
"width": 450, "height": 246,
"layer": [
{"data": {"name": "fit"}, "transform": [{"filter": {"field": "p", "equal": "c"}}],
 "mark": {"type": "line", "interpolate": "monotone", "color": "black", "strokeWidth": 1.3},
 "encoding": {
  "x": {"field": "phi", "type": "quantitative", "scale": {"domain": [-180, 180], "nice": false, "zero": false}, "axis": {"orient": "bottom", "values": [-180,-120,-60,0,60,120,180], "tickSize": -7, "labelPadding": 14, "format": "d", "labelExpr": "replace(datum.label, '−', '-')", "title": "φ / deg", "titlePadding": 2}},
  "y": {"field": "w", "type": "quantitative", "scale": {"domain": [-1, 0.8], "nice": false, "zero": false}, "axis": {"orient": "left", "values": [0.6,0.4,0.2,0,-0.2,-0.4,-0.6,-0.8,-1], "tickSize": -7, "labelPadding": 20, "format": "~g", "labelExpr": "replace(datum.label, '−', '-')", "title": null}},
  "detail": {"field": "s", "type": "nominal"}
 }},
{"data": {"name": "sim"}, "transform": [{"filter": {"field": "p", "equal": "c"}}],
 "mark": {"type": "point", "opacity": 1, "strokeWidth": 1.2},
 "encoding": {
  "x": {"field": "phi", "type": "quantitative", "axis": {"orient": "top", "values": [-180,-120,-60,0,60,120,180], "labels": false, "tickSize": -7, "title": null}},
  "y": {"field": "w", "type": "quantitative", "axis": {"orient": "right", "values": [0.6,0.4,0.2,0,-0.2,-0.4,-0.6,-0.8,-1], "labels": false, "tickSize": -7, "title": null}},
  "shape": {"field": "s", "type": "nominal", "scale": {"domain": ["tx","gx","x"], "range": ["circle","square","circle"]}, "legend": {"title": null, "legendX": 408, "legendY": 156}},
  "fill": {"field": "s", "type": "nominal", "scale": {"domain": ["tx","gx","x"], "range": ["#e4e4e4","#e4e4e4","black"]}, "legend": {"title": null, "legendX": 408, "legendY": 156}},
  "stroke": {"field": "s", "type": "nominal", "scale": {"domain": ["tx","gx","x"], "range": ["#444","#222","black"]}, "legend": {"title": null, "legendX": 408, "legendY": 156}},
  "size": {"field": "s", "type": "nominal", "scale": {"type": "ordinal", "domain": ["tx","gx","x"], "range": [40, 56, 30]}, "legend": {"title": null, "legendX": 408, "legendY": 156}}
 }},
{"data": {"name": "sim"}, "transform": [{"filter": {"field": "p", "equal": "c"}}, {"filter": {"field": "s", "equal": "gx"}}],
 "mark": {"type": "point", "shape": "circle", "filled": true, "size": 3, "color": "#222", "opacity": 1},
 "encoding": {"x": {"field": "phi", "type": "quantitative", "axis": null}, "y": {"field": "w", "type": "quantitative", "axis": null}}},
{"data": {"values": [{}]},
 "mark": {"type": "text", "align": "left", "baseline": "alphabetic", "fontSize": 19, "font": "Liberation Sans", "color": "black"},
 "encoding": {"x": {"datum": -175, "type": "quantitative", "axis": null}, "y": {"datum": -0.96, "type": "quantitative", "axis": null}, "text": {"value": "(c)"}}}
],
"resolve": {"axis": {"x": "independent", "y": "independent"}}
}
],
"resolve": {
 "scale": {"x": "independent", "y": "independent", "shape": "independent", "fill": "independent", "stroke": "independent", "size": "independent"},
 "legend": {"shape": "independent", "fill": "independent", "stroke": "independent", "size": "independent"}
},
"config": {
 "view": {"stroke": "black", "strokeWidth": 2},
 "axis": {"domain": false, "grid": false, "tickColor": "black", "tickWidth": 1.5, "labelFont": "Liberation Sans", "labelFontSize": 19, "labelColor": "black", "titleFont": "Liberation Sans", "titleFontSize": 19, "titleFontWeight": "normal", "titleColor": "black", "labelOverlap": false, "labelFlush": false},
 "legend": {"orient": "none", "labelAlign": "right", "labelOffset": -22, "labelFontSize": 19, "labelFont": "Liberation Sans", "labelColor": "black", "rowPadding": 0, "padding": 0, "symbolStrokeWidth": 1.2, "labelLimit": 0}
}
}
